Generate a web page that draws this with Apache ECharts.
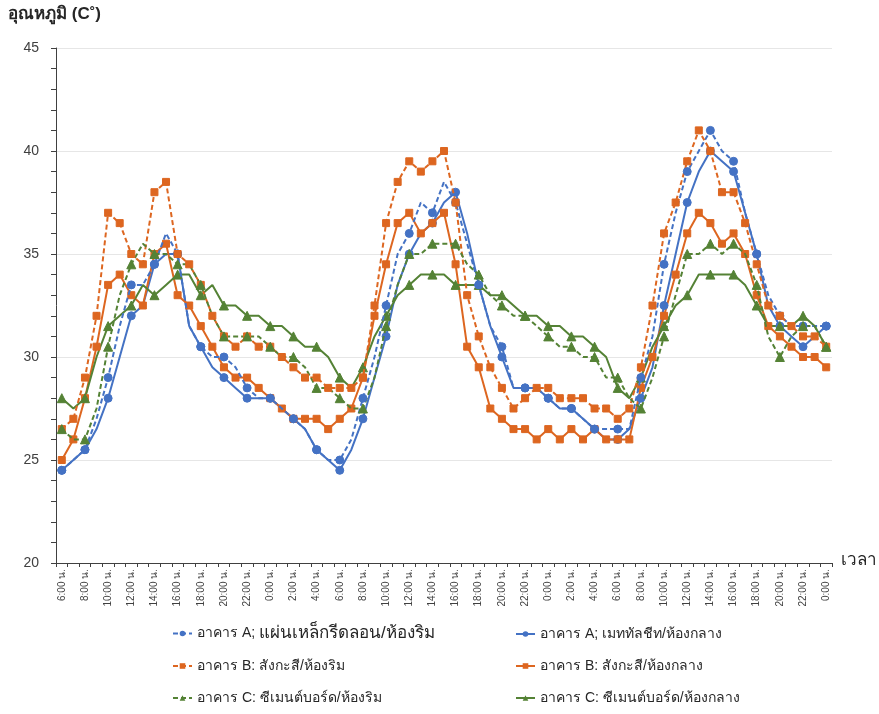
<!DOCTYPE html>
<html>
<head>
<meta charset="utf-8">
<script src="https://cdn.jsdelivr.net/npm/echarts@6/dist/echarts.min.js"></script>
<style>
  html, body { margin: 0; padding: 0; background: #fff; }
  #chart { width: 879px; height: 714px; }
</style>
</head>
<body>
<div id="chart"></div>
<script>
// Hourly time labels, 6:00 on day one through 0:00 on day four
const hours = [
  '6:00 น.','7:00 น.','8:00 น.','9:00 น.','10:00 น.','11:00 น.','12:00 น.','13:00 น.','14:00 น.','15:00 น.',
  '16:00 น.','17:00 น.','18:00 น.','19:00 น.','20:00 น.','21:00 น.','22:00 น.','23:00 น.',
  '0:00 น.','1:00 น.','2:00 น.','3:00 น.','4:00 น.','5:00 น.','6:00 น.','7:00 น.','8:00 น.','9:00 น.',
  '10:00 น.','11:00 น.','12:00 น.','13:00 น.','14:00 น.','15:00 น.','16:00 น.','17:00 น.','18:00 น.','19:00 น.',
  '20:00 น.','21:00 น.','22:00 น.','23:00 น.',
  '0:00 น.','1:00 น.','2:00 น.','3:00 น.','4:00 น.','5:00 น.','6:00 น.','7:00 น.','8:00 น.','9:00 น.',
  '10:00 น.','11:00 น.','12:00 น.','13:00 น.','14:00 น.','15:00 น.','16:00 น.','17:00 น.','18:00 น.','19:00 น.',
  '20:00 น.','21:00 น.','22:00 น.','23:00 น.',
  '0:00 น.'
];

// Series names
const nameAEdge   = 'อาคาร A; แผ่นเหล็กรีดลอน/ห้องริม';
const nameACenter = 'อาคาร A; เมททัลชีท/ห้องกลาง';
const nameBEdge   = 'อาคาร B: สังกะสี/ห้องริม';
const nameBCenter = 'อาคาร B: สังกะสี/ห้องกลาง';
const nameCEdge   = 'อาคาร C: ซีเมนต์บอร์ด/ห้องริม';
const nameCCenter = 'อาคาร C: ซีเมนต์บอร์ด/ห้องกลาง';

// Temperatures (°C), one value per hour
const aEdge = [
  24.5,25.0,25.5,27.0,29.0,31.5,33.5,33.5,34.5,36.0,35.0,31.5,30.5,30.0,30.0,29.5,28.5,28.0,
  28.0,27.5,27.0,26.5,25.5,25.0,25.0,26.0,28.0,30.0,32.5,35.0,36.0,37.5,37.0,38.5,37.5,35.5,33.5,31.5,30.5,28.5,28.5,28.5,
  28.0,27.5,27.5,27.0,26.5,26.5,26.5,26.5,29.0,31.0,34.5,37.0,39.0,40.0,41.0,40.0,39.5,37.0,35.0,33.0,32.0,31.5,31.5,31.5,
  31.5
];
const aCenter = [
  24.5,25.0,25.5,26.5,28.0,30.0,32.0,32.5,34.5,35.0,35.0,31.5,30.5,29.5,29.0,28.5,28.0,28.0,
  28.0,27.5,27.0,26.5,25.5,25.0,24.5,25.5,27.0,29.0,31.0,33.5,35.0,36.0,36.5,37.5,38.0,36.0,33.5,31.5,30.0,28.5,28.5,28.5,
  28.0,27.5,27.5,27.0,26.5,26.0,26.0,26.5,28.0,29.5,32.5,35.0,37.5,39.0,40.0,39.5,39.0,37.0,35.0,32.5,31.5,31.0,30.5,31.0,
  31.5
];
const bEdge = [
  26.5,27.0,29.0,32.0,37.0,36.5,35.0,34.5,38.0,38.5,35.0,34.5,33.5,32.0,31.0,30.5,31.0,30.5,
  30.5,30.0,29.5,29.0,29.0,28.5,28.5,28.5,29.0,32.5,36.5,38.5,39.5,39.0,39.5,40.0,37.5,33.0,31.0,29.5,28.5,27.5,28.0,28.5,
  28.5,28.0,28.0,28.0,27.5,27.5,27.0,27.5,29.5,32.5,36.0,37.5,39.5,41.0,40.0,38.0,38.0,36.5,34.5,32.5,32.0,31.5,31.0,31.0,
  30.5
];
const bCenter = [
  25.0,26.0,28.0,30.5,33.5,34.0,33.0,32.5,35.0,35.5,33.0,32.5,31.5,30.5,29.5,29.0,29.0,28.5,
  28.0,27.5,27.0,27.0,27.0,26.5,27.0,27.5,29.0,32.0,34.5,36.5,37.0,36.0,36.5,37.0,34.5,30.5,29.5,27.5,27.0,26.5,26.5,26.0,
  26.5,26.0,26.5,26.0,26.5,26.0,26.0,26.0,28.5,30.0,32.0,34.0,36.0,37.0,36.5,35.5,36.0,35.0,33.0,31.5,31.0,30.5,30.0,30.0,
  29.5
];
const cEdge = [
  26.5,26.0,26.0,27.5,30.5,33.0,34.5,35.5,35.0,35.0,34.5,34.5,33.5,32.0,31.0,31.0,31.0,31.0,
  30.5,30.0,30.0,29.5,28.5,28.5,28.0,27.5,27.5,29.0,31.5,33.5,35.0,35.0,35.5,35.5,35.5,34.5,34.0,33.0,32.5,32.0,32.0,31.5,
  31.0,30.5,30.5,30.0,30.0,29.0,29.0,28.0,27.5,29.0,31.0,33.0,35.0,35.0,35.5,35.0,35.5,35.0,33.5,31.0,30.0,31.0,31.5,31.5,
  30.5
];
const cCenter = [
  28.0,27.5,28.0,30.0,31.5,32.0,32.5,33.5,33.0,33.5,34.0,34.0,33.0,33.5,32.5,32.5,32.0,32.0,
  31.5,31.5,31.0,30.5,30.5,30.0,29.0,28.5,29.5,31.0,32.0,33.0,33.5,34.0,34.0,34.0,33.5,33.5,33.5,33.0,33.0,32.5,32.0,32.0,
  31.5,31.5,31.0,31.0,30.5,30.0,28.5,28.0,29.0,30.5,31.5,32.5,33.0,34.0,34.0,34.0,34.0,33.5,32.5,31.5,31.5,31.5,32.0,31.5,
  30.5
];

const BLUE = '#4472C4';
const ORANGE = '#DD6620';
const GREEN = '#548235';
const FONT = '"Liberation Sans", "Noto Sans", "DejaVu Sans", sans-serif';
const TEXT = '#262626';

function makeSeries(name, data, color, symbol, size, dashed) {
  return {
    name: name,
    type: 'line',
    data: data,
    symbol: symbol,
    symbolSize: size,
    showSymbol: true,
    color: color,
    itemStyle: { color: color, borderColor: color },
    lineStyle: { color: color, width: 2, type: dashed ? [5, 3] : 'solid' },
    emphasis: { disabled: true },
    animation: false,
    z: dashed ? 3 : 2
  };
}

// One legend entry per block so each row and column sits at a fixed spot
function legendItem(name, left, top, formatter) {
  const item = {
    left: left,
    top: top,
    padding: 0,
    orient: 'horizontal',
    itemWidth: 19,
    itemHeight: 7,
    itemGap: 0,
    selectedMode: false,
    data: [name],
    textStyle: {
      fontFamily: FONT, fontSize: 14, color: TEXT,
      rich: {
        s: { fontFamily: FONT, fontSize: 14, color: TEXT },
        b: { fontFamily: FONT, fontSize: 17, color: TEXT }
      }
    }
  };
  if (formatter) item.formatter = formatter;
  return item;
}

const chart = echarts.init(document.getElementById('chart'), null, { renderer: 'canvas' });

chart.setOption({
  animation: false,
  backgroundColor: '#ffffff',
  textStyle: { fontFamily: FONT },
  grid: { left: 56, right: 47, top: 48, bottom: 151, containLabel: false },
  xAxis: {
    type: 'category',
    data: hours,
    boundaryGap: true,
    axisLine: { show: true, lineStyle: { color: '#404040', width: 1 } },
    axisTick: { show: true, interval: 0, length: 4, lineStyle: { color: '#404040' } },
    axisLabel: { interval: 1, rotate: 90, fontSize: 10, color: '#404040', margin: 6, fontFamily: FONT },
    splitLine: { show: false }
  },
  yAxis: {
    type: 'value',
    min: 20,
    max: 45,
    interval: 5,
    axisLine: { show: true, lineStyle: { color: '#404040', width: 1 } },
    axisTick: { show: true, length: 5, lineStyle: { color: '#404040' } },
    minorTick: { show: true, splitNumber: 5, length: 5, lineStyle: { color: '#404040' } },
    axisLabel: { fontSize: 14, color: '#404040', margin: 17, fontFamily: FONT },
    splitLine: { show: true, lineStyle: { color: '#e6e6e6', width: 1 } }
  },
  legend: [
    legendItem(nameAEdge, 172, 625, function () {
      return '{s|อาคาร A; }{b|แผ่นเหล็กรีดลอน/ห้องริม}';
    }),
    legendItem(nameACenter, 515, 627),
    legendItem(nameBEdge, 172, 659),
    legendItem(nameBCenter, 515, 659),
    legendItem(nameCEdge, 172, 691),
    legendItem(nameCCenter, 515, 691)
  ],
  graphic: [
    { type: 'text', left: 8, top: 6,
      style: { text: 'อุณหภูมิ (C˚)', fontSize: 17, fontWeight: 'bold', fontFamily: FONT, fill: TEXT } },
    { type: 'text', left: 841, top: 552,
      style: { text: 'เวลา', fontSize: 17, fontFamily: FONT, fill: TEXT } }
  ],
  series: [
    makeSeries(nameACenter, aCenter, BLUE, 'circle', 8, false),
    makeSeries(nameBCenter, bCenter, ORANGE, 'rect', 7, false),
    makeSeries(nameCCenter, cCenter, GREEN, 'triangle', 9, false),
    makeSeries(nameAEdge, aEdge, BLUE, 'circle', 8, true),
    makeSeries(nameBEdge, bEdge, ORANGE, 'rect', 7, true),
    makeSeries(nameCEdge, cEdge, GREEN, 'triangle', 9, true)
  ]
});
</script>
</body>
</html>
